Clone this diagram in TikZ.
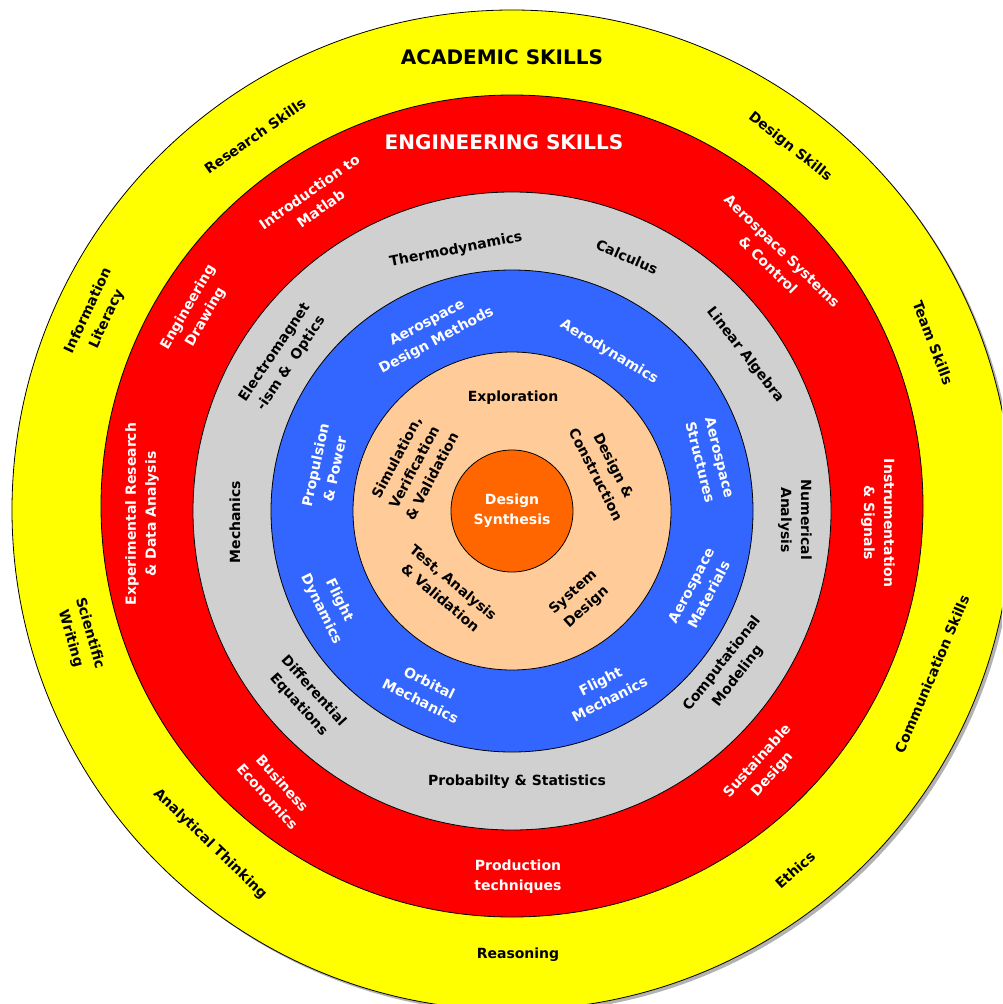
\documentclass[tikz,border=0pt]{standalone}
\usepackage{fontspec}
\setmainfont{DejaVu Sans}
\definecolor{ryellow}{RGB}{255,255,0}
\definecolor{rred}{RGB}{255,0,0}
\definecolor{rgray}{RGB}{208,208,208}
\definecolor{rblue}{RGB}{51,102,255}
\definecolor{rpeach}{RGB}{255,204,153}
\definecolor{rorange}{RGB}{255,102,0}

\begin{document}
\begin{tikzpicture}[x=1pt,y=-1pt]
\tikzset{ring/.style = {draw=black, line width=0.8pt}}
\tikzset{blk/.style = {text=black, font=\bfseries\fontsize{14}{20}\selectfont, align=center, inner sep=0pt}}
\tikzset{wht/.style = {blk, text=white}}
\tikzset{title/.style = {font=\bfseries\fontsize{20}{24}\selectfont, inner sep=0pt}}
\clip (0,0) rectangle (1002,1004);
% rings
\fill[black!30] (515,513) circle[radius=500pt];
\draw[ring, fill=ryellow] (512,510) circle[radius=500pt];
\draw[ring, fill=rred] (512,506) circle[radius=411pt];
\draw[ring, fill=rgray] (512,511) circle[radius=319pt];
\draw[ring, fill=rblue] (512,511) circle[radius=241pt];
\draw[ring, fill=rpeach] (512,511) circle[radius=159pt];
\draw[ring, fill=rorange] (512,511) circle[radius=61pt];

% academic skills
\node[title] (a) at (502,57) {ACADEMIC SKILLS};
\node[blk, rotate=35] (b) at (255,136) {Research Skills};
\node[blk, rotate=-38] (c) at (790,147) {Design Skills};
\node[blk, rotate=65] (d) at (98,315) {Information\\Literacy};
\node[blk, rotate=-69] (e) at (933,343) {Team Skills};
\node[blk, rotate=-74] (f) at (80,636) {Scientific\\Writing};
\node[blk, rotate=67] (g) at (932,674) {Communication Skills};
\node[blk, rotate=-44] (h) at (210,844) {Analytical Thinking};
\node[blk, rotate=42] (i) at (795,870) {Ethics};
\node[blk] (j) at (518,955) {Reasoning};

% engineering skills
\node[title, text=white] (k) at (504,142) {ENGINEERING SKILLS};
\node[wht, rotate=35] (l) at (315,200) {Introduction to\\Matlab};
\node[wht, rotate=-44] (m) at (775,258) {Aerospace Systems\\\& Control};
\node[wht, rotate=60] (n) at (197,312) {Engineering\\Drawing};
\node[wht, rotate=90] (o) at (142,514) {Experimental Research\\\& Data Analysis};
\node[wht, rotate=-90] (p) at (878,523) {Instrumentation\\\& Signals};
\node[wht, rotate=-48] (q) at (275,790) {Business\\Economics};
\node[wht, rotate=48] (r) at (765,768) {Sustainable\\Design};
\node[wht] (s) at (518,877) {Production\\techniques};

% gray ring
\node[blk, rotate=11] (t) at (456,250) {Thermodynamics};
\node[blk, rotate=-24] (u) at (627,257) {Calculus};
\node[blk, rotate=56] (v) at (283,358) {Electromagnet\\-ism \& ~Optics};
\node[blk, rotate=-52] (w) at (745,355) {Linear Algebra};
\node[blk, rotate=90] (x) at (235,522) {Mechanics};
\node[blk, rotate=-90] (y) at (795,520) {Numerical\\Analysis};
\node[blk, rotate=-48] (z) at (306,698) {Differential\\Equations};
\node[blk, rotate=52] (aa) at (730,670) {Computational\\Modeling};
\node[blk] (ab) at (517,782) {Probabilty \& Statistics};

% blue ring
\node[wht, rotate=28] (ac) at (432,332) {Aerospace\\Design Methods};
\node[wht, rotate=-31] (ad) at (609,352) {Aerodynamics};
\node[wht, rotate=78] (ae) at (325,467) {Propulsion\\\& Power};
\node[wht, rotate=-76] (af) at (710,460) {Aerospace\\Structures};
\node[wht, rotate=-64] (ag) at (330,605) {Flight\\Dynamics};
\node[wht, rotate=62] (ah) at (700,590) {Aerospace\\Materials};
\node[wht, rotate=-26] (ai) at (425,692) {Orbital\\Mechanics};
\node[wht, rotate=27] (aj) at (605,690) {Flight\\Mechanics};

% peach ring
\node[blk] (ak) at (513,398) {Exploration};
\node[blk, rotate=62] (al) at (414,467) {Simulation,\\Verification\\\& Validation};
\node[blk, rotate=-63] (am) at (605,470) {Design \&\\Construction};
\node[blk, rotate=-40] (an) at (447,590) {Test, Analysis\\\& Validation};
\node[blk, rotate=42] (ao) at (580,600) {System\\Design};

% centre
\node[wht] (ap) at (512,511) {Design\\Synthesis};
\end{tikzpicture}
\end{document}
